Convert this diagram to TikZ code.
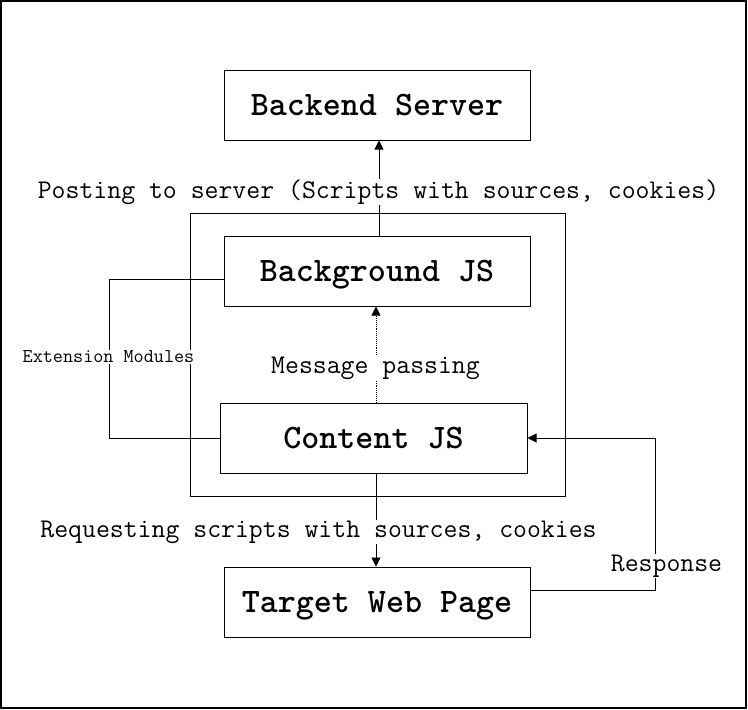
\documentclass[tikz,border=0pt]{standalone}
\usepackage{fontspec}
\usetikzlibrary{arrows.meta}
\begin{document}
\begin{tikzpicture}[x=1pt,y=-1pt,
  box/.style={draw,line width=1pt,minimum width=306pt,minimum height=70pt,inner sep=0pt,text height=21pt,text depth=0pt,font=\fontsize{34.3}{36}\selectfont\ttfamily\bfseries},
  lbl/.style={fill=white,inner sep=1pt,font=\fontsize{27}{30}\selectfont\ttfamily},
  slbl/.style={fill=white,inner sep=1pt,font=\fontsize{19.6}{22}\selectfont\ttfamily},
  conn/.style={line width=0.9pt},
  tip/.style={-{Triangle[length=9pt,width=9pt]}},
  arr/.style={conn,tip}]
\useasboundingbox (0,0) rectangle (748,710);
\draw[line width=1.4pt] (1,1) rectangle (746,708);
\node[box] (backend) at (377,105) {Backend Server};
\draw[line width=1pt] (190,213) rectangle (565,496);
\node[box] (background) at (377,271) {Background JS};
\node[box,minimum width=307pt] (content) at (373.5,438) {Content JS};
\node[box] (target) at (377,602) {Target Web Page};
% background -> backend
\draw[arr] (background.north -| 379,0) -- (backend.south -| 379,0);
\node[lbl] (lpost) at (378.5,192) {Posting to server (Scripts with sources, cookies)};
% content -> background dotted
\draw[conn,densely dotted,tip] (content.north -| 376,0) -- (background.south -| 376,0);
\node[lbl] (lmsg) at (375.5,368) {Message passing};
% content -> target
\draw[arr] (content.south -| 376,0) -- (target.north -| 376,0);
\node[lbl] (lreq) at (318.5,532) {Requesting scripts with sources, cookies};
% response
\coordinate (r1) at (655,590);
\coordinate (r2) at (655,438);
\draw[arr] (target.east |- r1) -- (r1) -- (r2) -- (content.east);
\node[lbl] (lresp) at (666.5,566) {Response};
% extension modules
\coordinate (e1) at (109,279);
\coordinate (e2) at (109,438);
\draw[conn] (background.west |- e1) -- (e1) -- (e2) -- (content.west);
\node[slbl] (lext) at (108.5,357) {Extension Modules};
\end{tikzpicture}
\end{document}
